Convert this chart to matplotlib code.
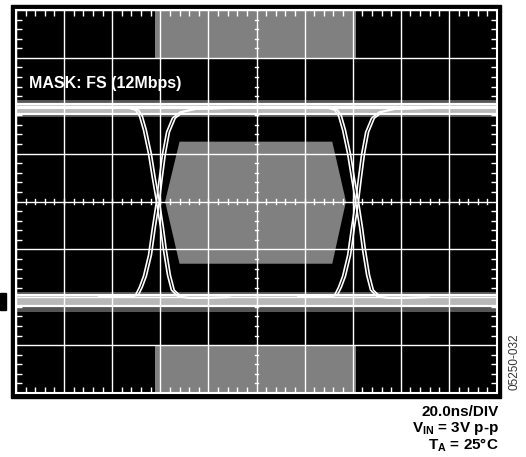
import numpy as np
import matplotlib
matplotlib.use("Agg")
import matplotlib.pyplot as plt
from matplotlib.patches import Rectangle, Polygon

plt.rcParams['font.family'] = ['Liberation Sans', 'DejaVu Sans']
plt.rcParams['mathtext.fontset'] = 'custom'
plt.rcParams['mathtext.rm'] = 'Liberation Sans:bold'
plt.rcParams['mathtext.bf'] = 'Liberation Sans:bold'

# scope screen: 20 ns/div x 10 div, 8 vertical div
x_lim = (0, 200)
y_lim = (-4, 4)

# USB full-speed eye mask (ns, div)
mask_rect_x = [57.9, 141.2]
mask_top_y = [3.0, 4.0]
mask_bot_y = [-4.0, -3.0]
mask_hex_x = [62.0, 68.0, 131.5, 137.2, 131.5, 68.0]
mask_hex_y = [0.0, 1.25, 1.25, 0.0, -1.3, -1.3]

# logic levels (div)
high_noise = [1.76, 2.12]
high_core = [1.85, 2.05]
high_lines = [2.04, 1.95, 1.83]
low_noise = [-1.88, -2.31]
low_core = [-1.97, -2.20]
low_lines = [-1.95, -2.19]

# edge crossings (ns) and jitter spread
crossings = [59.0, 141.8]
jitter = [-0.6, 0.6]

# edge shapes, relative to crossing
fall_dt = [-24.0, -11.6, -8.7, -7.1, -5.4, -3.3, -1.7, 0.0, 1.7, 2.9, 4.6, 6.2, 9.1, 14.1, 29.5]
fall_y = [1.95, 1.95, 1.91, 1.79, 1.49, 0.99, 0.49, 0.0, -0.55, -1.01, -1.54, -1.85, -1.99, -2.02, -2.0]
rise_dt = [-24.0, -11.6, -8.7, -7.1, -5.4, -3.3, -1.7, 0.0, 1.2, 2.5, 4.2, 6.6, 9.9, 15.3, 29.5]
rise_y = [-1.99, -1.99, -1.95, -1.79, -1.56, -1.12, -0.55, 0.0, 0.49, 0.99, 1.45, 1.74, 1.87, 1.93, 1.95]

fig = plt.figure(figsize=(5.26, 4.57), dpi=100)
fig.patches.append(Rectangle((11 / 526, 59 / 457), 490 / 526, 393 / 457,
                             transform=fig.transFigure, color="black", zorder=-10))
fig.patches.append(Rectangle((0, 147 / 457), 6 / 526, 17 / 457,
                             transform=fig.transFigure, color="black", zorder=-10))

ax = fig.add_axes([16 / 526, 64 / 457, 481 / 526, 383 / 457])
ax.set_zorder(1)
ax.set_facecolor("black")
ax.set_xlim(*x_lim)
ax.set_ylim(*y_lim)

# mask
gray = "#808080"
ax.add_patch(Rectangle((mask_rect_x[0], mask_top_y[0]), mask_rect_x[1] - mask_rect_x[0],
                       mask_top_y[1] - mask_top_y[0], color=gray, lw=0, zorder=1))
ax.add_patch(Rectangle((mask_rect_x[0], mask_bot_y[0]), mask_rect_x[1] - mask_rect_x[0],
                       mask_bot_y[1] - mask_bot_y[0], color=gray, lw=0, zorder=1))
ax.add_patch(Polygon(list(zip(mask_hex_x, mask_hex_y)), closed=True, color=gray, lw=0, zorder=1))

# level bands
ax.axhspan(high_noise[0], high_noise[1], color="#555555", lw=0, zorder=2)
ax.axhspan(high_core[0], high_core[1], color="#b8b8b8", lw=0, zorder=2)
ax.axhspan(low_noise[0], low_noise[1], color="#555555", lw=0, zorder=2)
ax.axhspan(low_core[0], low_core[1], color="#b8b8b8", lw=0, zorder=2)
for yv in high_lines + low_lines:
    ax.axhline(yv, color="white", lw=1.6, zorder=4)

# grid
ax.set_xticks(np.arange(0, 201, 20))
ax.set_yticks(np.arange(-4, 5, 1))
ax.set_xticks(np.arange(0, 201, 4), minor=True)
ax.set_yticks(np.arange(-4, 4.01, 0.2), minor=True)
ax.grid(True, which="major", color="white", lw=1.0, zorder=3)
ax.set_axisbelow(False)
ax.tick_params(which="major", length=0, labelbottom=False, labelleft=False)
ax.tick_params(which="minor", direction="in", length=4, width=1, color="white",
               top=True, right=True, bottom=True, left=True)
for s in ax.spines.values():
    s.set_color("white")
    s.set_linewidth(1.5)

# ticks on the centre lines
for xv in np.arange(0, 201, 4):
    ax.plot([xv, xv], [-0.06, 0.06], color="white", lw=1, zorder=3)
for yv in np.arange(-4, 4.01, 0.2):
    ax.plot([99.2, 100.8], [yv, yv], color="white", lw=1, zorder=3)

# edges
for c in crossings:
    for j in jitter:
        ax.plot(np.array(fall_dt) + c + j, fall_y, color="white", lw=1.2, zorder=5)
        ax.plot(np.array(rise_dt) + c + j, rise_y, color="white", lw=1.2, zorder=5)

ax.text(13 / 481, 0.809, "MASK: FS (12Mbps)", transform=ax.transAxes, color="white",
        fontsize=11.5, fontweight="bold", va="center", ha="left", zorder=6)

fig.text(499 / 526, 41 / 457, "20.0ns/DIV", ha="right", va="baseline",
         fontsize=11, fontweight="bold")
fig.text(499 / 526, 25 / 457, r"V$_{\mathbf{IN}}$ = 3V p-p", ha="right", va="baseline",
         fontsize=11, fontweight="bold")
fig.text(499 / 526, 8 / 457, r"T$_{\mathbf{A}}$ = 25°C", ha="right", va="baseline",
         fontsize=11, fontweight="bold")
fig.text(515 / 526, 95 / 457, "05250-032", rotation=90, ha="center", va="center",
         fontsize=8.5, color="#333333")

fig.savefig("out.png", dpi=100)
